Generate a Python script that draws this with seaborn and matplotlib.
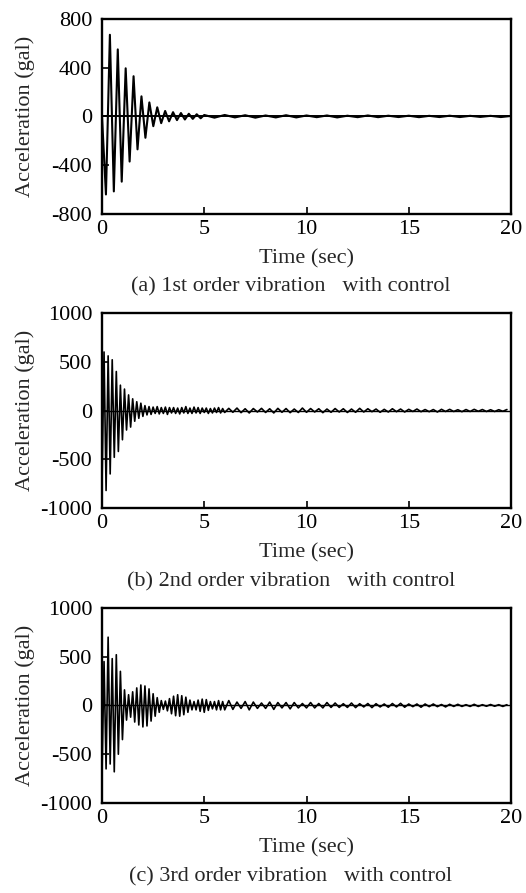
import numpy as np
import pandas as pd
import matplotlib
matplotlib.use("Agg")
import matplotlib.pyplot as plt
import seaborn as sns

# peak-to-peak readings (gal), burst part on a fine step,
# quiet tail on a coarser step
a_dt, a_burst = 0.193, [0, -640, 670, -615, 550, -535, 395, -370, 330, -270,
                        165, -175, 115, -80, 75, -55, 45, -40, 35, -30,
                        28, -25, 22, -20, 18, -15]
a_tail_start, a_tail_dt = 5.0, 0.5
a_tail = [12, -10, 12, -8, 10, -10, 8, -8, 10, -8, 8, -6, 8, -8, 6, -6,
          8, -6, 6, -5, 6, -6, 5, -5, 6, -5, 5, -4, 5, -5, 4]

b_dt, b_burst = 0.1, [-780, 600, -820, 560, -650, 520, -480, 400, -420, 260,
                      -300, 220, -200, 160, -170, 120, -110, 90, -80, 75,
                      -60, 50, -45, 40, -40, 35, -30, 40, -35, 30,
                      -30, 35, -40, 30, -25, 30, -30, 25, -35, 30,
                      -25, 40, -30, 25, -30, 35, -25, 30, -30, 25,
                      -20, 25, -30, 20, -25, 25, -20, 30, -25, 20]
b_tail_start, b_tail_dt = 6.0, 0.2
b_tail = [-20, 22, -18, 25, -22, 18, -25, 20, -15, 22,
          -20, 18, -25, 22, -18, 20, -22, 15, -20, 25,
          -18, 20, -15, 18, -22, 15, -18, 20, -15, 18,
          -20, 15, -18, 22, -15, 18, -12, 15, -18, 12,
          -15, 18, -12, 15, -15, 12, -10, 15, -12, 10,
          -12, 10, -15, 12, -10, 12, -10, 8, -12, 10,
          -10, 12, -8, 10, -10, 8, -10, 8, -8, 10]

c_dt, c_burst = 0.1, [-720, 450, -650, 700, -600, 480, -680, 520, -500, 350,
                      -350, 160, -150, 110, -120, 140, -170, 180, -200, 210,
                      -220, 200, -210, 170, -160, 120, -110, 80, -70, 50,
                      -40, 45, -55, 70, -85, 95, -105, 110, -110, 100,
                      -95, 85, -70, 55, -45, 40, -45, 55, -60, 65,
                      -70, 60, -50, 40, -35, 40, -45, 50, -45, 40]
c_tail_start, c_tail_dt = 6.0, 0.2
c_tail = [-45, 50, -40, 35, -30, 40, -45, 35, -30, 25,
          -30, 35, -40, 30, -25, 30, -35, 30, -25, 20,
          -25, 30, -25, 20, -25, 30, -20, 25, -20, 18,
          -20, 25, -22, 18, -15, 20, -22, 18, -15, 15,
          -18, 20, -15, 22, -18, 15, -12, 15, -18, 15,
          -12, 15, -12, 10, -15, 12, -10, 12, -10, 8,
          -10, 12, -10, 8, -8, 10, -8, 8, -10, 8]

captions = ["(a) 1st order vibration   with control",
            "(b) 2nd order vibration   with control",
            "(c) 3rd order vibration   with control"]
yticks = [[-800, -400, 0, 400, 800],
          [-1000, -500, 0, 500, 1000],
          [-1000, -500, 0, 500, 1000]]
xticks = [0, 5, 10, 15, 20]


def series(dt, burst, t0, dt2, tail):
    t = np.concatenate([np.arange(len(burst)) * dt, t0 + np.arange(len(tail)) * dt2])
    return pd.DataFrame({"t": t, "acc": burst + tail})


data = [series(a_dt, a_burst, a_tail_start, a_tail_dt, a_tail),
        series(b_dt, b_burst, b_tail_start, b_tail_dt, b_tail),
        series(c_dt, c_burst, c_tail_start, c_tail_dt, c_tail)]

sns.set_style("ticks")
plt.rcParams["font.family"] = ["Liberation Serif", "DejaVu Serif"]
plt.rcParams["axes.unicode_minus"] = False

fig = plt.figure(figsize=(5.26, 8.93), dpi=100)
bottoms = [0.7604, 0.4311, 0.1008]
cap_y = [1 - 287 / 893, 1 - 582 / 893, 1 - 877 / 893]
fs = 16

for i, df in enumerate(data):
    ax = fig.add_axes([0.1939, bottoms[i], 0.7776, 0.2184])
    ax.axhline(0, color="black", lw=1.4 if i == 0 else 1.0)
    sns.lineplot(data=df, x="t", y="acc", ax=ax, color="black",
                 lw=1.5 if i == 0 else 1.2, estimator=None, sort=False)
    ax.set_xlim(0, 20)
    ax.set_ylim(yticks[i][0], yticks[i][-1])
    ax.set_xticks(xticks)
    ax.set_yticks(yticks[i])
    ax.tick_params(direction="in", length=5, width=1.2, labelsize=fs,
                   colors="black")
    ax.tick_params(axis="y", pad=7)
    ax.tick_params(axis="x", pad=4)
    for s in ax.spines.values():
        s.set_linewidth(1.7)
        s.set_color("black")
    ax.set_xlabel("Time (sec)", fontsize=fs, labelpad=8)
    ax.set_ylabel("Acceleration (gal)", fontsize=fs)
    ax.yaxis.set_label_coords(-0.165, 0.5)
    fig.text(0.553, cap_y[i], captions[i], fontsize=fs, ha="center", va="center")

fig.savefig("out.png", dpi=100)
